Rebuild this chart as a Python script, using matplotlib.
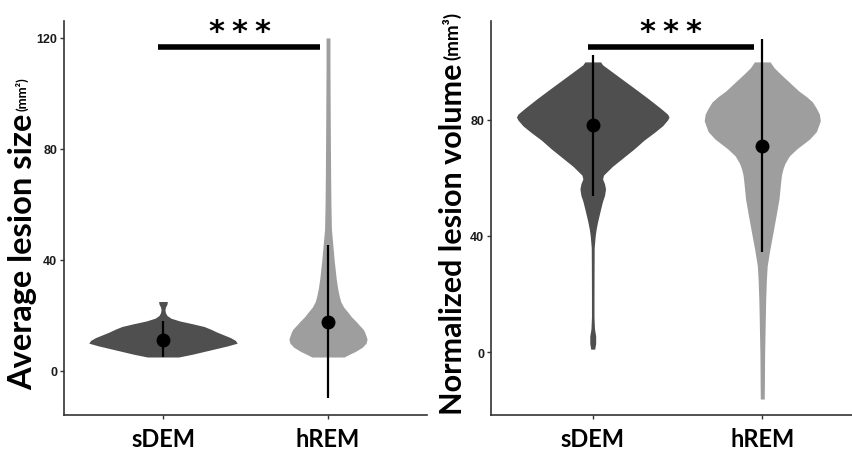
import numpy as np
import matplotlib
matplotlib.use("Agg")
import matplotlib.pyplot as plt
from matplotlib.transforms import offset_copy

# ---------------- data ----------------
groups = ["sDEM", "hREM"]
colors = ["#4f4f4f", "#9e9e9e"]

# Panel A: average lesion size (mm2) - violin density profiles (value, relative density)
a_sdem_y = [5.0, 6.0, 7.0, 8.0, 9.0, 10.0, 11.0, 12.0, 13.0, 14.0, 15.0, 16.0, 17.0, 18.0, 19.0, 20.0, 21.0, 22.0, 23.0, 24.0, 25.0]
a_sdem_d = [16, 30, 42, 54, 66, 76, 74, 69, 62, 55, 49, 42, 30, 17, 8, 4, 2.5, 2, 2.5, 4, 4.5]
a_hrem_y = [5.0, 6.0, 7.0, 8.5, 10.0, 11.5, 13.0, 14.0, 15.0, 16.5, 17.7, 19.5, 21.3, 23.0, 25.0, 27.0, 29.5, 33.0, 36.8, 40.0, 44.0, 48.0, 51.0, 60.0, 70.0, 90.0, 110.0, 120.0]
a_hrem_d = [16.5, 22, 28, 35, 39, 40, 38.5, 37.5, 36, 32, 29, 24, 20, 16, 13, 11.5, 10, 8.5, 7.3, 6.3, 5.3, 4.3, 3.5, 3, 2.7, 2.3, 2, 2]
a_mean = [11.2, 17.7]
a_low = [5.0, -9.7]
a_high = [18.0, 45.4]

# Panel B: normalized lesion volume (mm3)
b_sdem_y = [1.0, 3.0, 5.5, 8.0, 12.0, 20.0, 30.0, 36.0, 38.0, 40.0, 42.4, 45.0, 49.3, 52.0, 54.0, 56.2, 58.0, 59.7, 61.0, 62.0, 64.0, 67.0, 70.0, 73.0, 75.8, 78.0, 80.0, 81.0, 82.0, 84.0, 87.2, 90.0, 93.0, 96.0, 98.0, 99.0, 100.0]
b_sdem_d = [2, 3, 3, 1.8, 1.3, 1.3, 1.4, 1.5, 2, 2.5, 3.5, 5, 8, 10, 12, 13, 12, 10, 11, 14, 20, 31, 42, 52, 63, 71, 76, 77.5, 76, 69, 57, 46, 34, 22, 14, 10, 8]
b_hrem_y = [-16.2, -10.0, 0.0, 1.0, 10.0, 18.3, 25.0, 29.7, 35.0, 41.4, 47.0, 52.8, 58.0, 61.0, 63.1, 65.0, 67.6, 70.0, 73.4, 76.0, 79.7, 82.0, 84.0, 86.2, 88.0, 90.0, 93.0, 96.0, 98.0, 100.0]
b_hrem_d = [2, 2.2, 2.4, 2.5, 3, 3.5, 4.2, 5, 7.5, 11, 14, 17, 18.5, 19.5, 21, 23, 27.5, 35, 48, 55, 59, 58, 55, 51, 45, 37, 27.5, 18, 12, 8]
b_mean = [78.3, 71.0]
b_low = [53.8, 34.5]
b_high = [102.4, 107.9]

a_sig = 116.8
b_sig = 105.2

# ---------------- figure ----------------
W, H = 853, 452
fig = plt.figure(figsize=(W / 100, H / 100), dpi=100)

label_font = "Lato"
spine_col = "#333333"


def make_axes(left_px, right_px, ylim, yticks):
    ax = fig.add_axes([left_px / W, 1 - 416 / H, (right_px - left_px) / W, (416 - 22) / H])
    ax.set_xlim(0.4, 2.6)
    ax.set_ylim(*ylim)
    ax.set_yticks(yticks)
    ax.set_xticks([1, 2])
    ax.set_xticklabels(groups, fontfamily=label_font, fontweight="bold", fontsize=17)
    for lab in ax.get_yticklabels():
        lab.set_fontfamily("Liberation Sans")
        lab.set_fontweight("bold")
        lab.set_fontsize(9)
        lab.set_color("#1a1a1a")
    ax.spines["top"].set_visible(False)
    ax.spines["right"].set_visible(False)
    for s in ("left", "bottom"):
        ax.spines[s].set_color(spine_col)
        ax.spines[s].set_linewidth(1.2)
    ax.tick_params(axis="y", length=3, width=1, color=spine_col, pad=2)
    ax.tick_params(axis="x", length=3, width=1, color=spine_col, pad=6)
    return ax


def draw_panel(ax, profiles, means, lows, highs, sig_y):
    dmax = max(max(d) for _, d in profiles)
    for i, (y, d) in enumerate(profiles):
        pos = i + 1
        w = np.array(d) / dmax * 0.45
        ax.fill_betweenx(np.array(y), pos - w, pos + w, color=colors[i], lw=0, zorder=1)
    for i in range(2):
        ax.plot([i + 1, i + 1], [lows[i], highs[i]], color="black", lw=1.6, zorder=3, solid_capstyle="butt")
        ax.plot(i + 1, means[i], "o", color="black", ms=9, zorder=4)
    ax.plot([0.97, 1.95], [sig_y, sig_y], color="black", lw=4, solid_capstyle="butt", zorder=5)
    for k in (-1, 0, 1):
        tr = offset_copy(ax.transData, fig=fig, x=k * 23, y=7, units="dots")
        ax.text(1.46, sig_y, "*", transform=tr, ha="center", va="baseline", fontsize=22,
                fontfamily="DejaVu Sans", fontweight="bold", clip_on=False)


axA = make_axes(64, 427, (-15.9, 126.1), [0, 40, 80, 120])
draw_panel(axA, [(a_sdem_y, a_sdem_d), (a_hrem_y, a_hrem_d)], a_mean, a_low, a_high, a_sig)

axB = make_axes(491, 864, (-21.7, 114.1), [0, 40, 80])
draw_panel(axB, [(b_sdem_y, b_sdem_d), (b_hrem_y, b_hrem_d)], b_mean, b_low, b_high, b_sig)

# y labels: large main part + smaller unit part
fig.canvas.draw()
renderer = fig.canvas.get_renderer()


def ylabel(x_px, y0_px, main, unit, size_main, size_unit):
    t = fig.text(x_px / W, y0_px / H, main, rotation=90, ha="center", va="bottom",
                 fontfamily=label_font, fontweight="bold", fontsize=size_main)
    bb = t.get_window_extent(renderer=renderer)
    fig.text((x_px - 1) / W, (bb.y1 + 3) / H, unit, rotation=90, ha="center", va="bottom",
             fontfamily=label_font, fontweight="bold", fontsize=size_unit)


ylabel(23, H - 390, "Average lesion size", "(mm²)", 23.5, 9.5)
ylabel(453, H - 415, "Normalized lesion volume", "(mm³)", 22, 13.5)

fig.savefig("out.png", dpi=100)
